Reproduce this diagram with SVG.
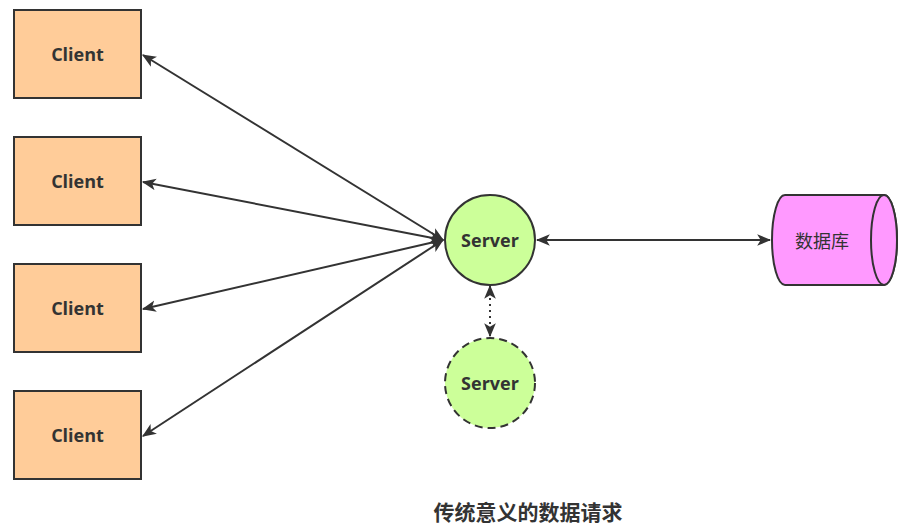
<svg xmlns="http://www.w3.org/2000/svg" width="907" height="531" viewBox="0 0 907 531">
<style>
.client rect{fill:#FFCC99;stroke:#333;stroke-width:2}
.srv circle{fill:#CCFF99;stroke:#333;stroke-width:2}
.lbl{font-family:"Open Sans","Noto Sans","Liberation Sans",sans-serif;font-weight:bold;font-size:18px;fill:#333;text-anchor:middle;dominant-baseline:central}
.cjk{font-family:"Noto Sans CJK SC",sans-serif;font-size:18px;fill:#333;text-anchor:middle;dominant-baseline:central}
.edge{stroke:#333;stroke-width:2;fill:none;marker-start:url(#ah);marker-end:url(#ah)}
</style>
<defs>
<marker id="ah" viewBox="0 0 12 10" refX="11" refY="5" markerWidth="7" markerHeight="6" markerUnits="strokeWidth" orient="auto-start-reverse">
<path d="M0,0 L12,5 L0,10 L3,5 Z" fill="#333"/>
</marker>
</defs>
<rect width="907" height="531" fill="#fff"/>
<g id="edges">
<line class="edge" x1="443" y1="240" x2="143" y2="55"/>
<line class="edge" x1="443" y1="240" x2="143" y2="182"/>
<line class="edge" x1="443" y1="240" x2="143" y2="309"/>
<line class="edge" x1="443" y1="240" x2="143" y2="436"/>
<line class="edge" x1="537" y1="240" x2="770" y2="240"/>
<line class="edge" x1="490" y1="286" x2="490" y2="336" stroke-dasharray="2 4"/>
</g>
<g id="client1" class="client"><rect x="14" y="10" width="127" height="88"/><text class="lbl" x="77.5" y="54">Client</text></g>
<g id="client2" class="client"><rect x="14" y="137" width="127" height="88"/><text class="lbl" x="77.5" y="181">Client</text></g>
<g id="client3" class="client"><rect x="14" y="264" width="127" height="88"/><text class="lbl" x="77.5" y="308">Client</text></g>
<g id="client4" class="client"><rect x="14" y="391" width="127" height="88"/><text class="lbl" x="77.5" y="435">Client</text></g>
<g id="server" class="srv"><circle cx="490" cy="240" r="45"/><text class="lbl" x="490" y="240">Server</text></g>
<g id="server2" class="srv"><circle cx="490" cy="383" r="45" stroke-dasharray="8 5"/><text class="lbl" x="490" y="383">Server</text></g>
<g id="db">
<path d="M785,195 L884,195 A13,45 0 0 1 884,285 L785,285 A13,45 0 0 1 785,195 Z" fill="#FF99FF" stroke="#333" stroke-width="2"/>
<ellipse cx="884" cy="240" rx="13" ry="45" fill="#FF99FF" stroke="#333" stroke-width="2"/>
<text class="cjk" x="822" y="240">数据库</text>
</g>
<text x="528" y="511" font-family="Noto Sans CJK SC,sans-serif" font-weight="bold" font-size="21" fill="#333" text-anchor="middle" dominant-baseline="central">传统意义的数据请求</text>
</svg>
